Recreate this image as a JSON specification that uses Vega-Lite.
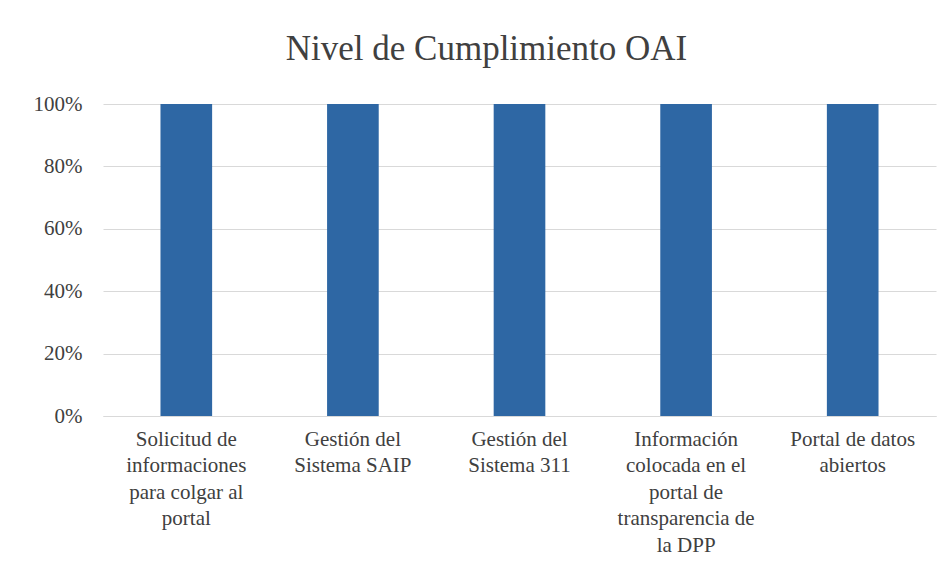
{
  "$schema": "https://vega.github.io/schema/vega-lite/v6.json",
  "width": 833,
  "height": 312,
  "autosize": "none",
  "padding": {"left": 103, "top": 104, "right": 15, "bottom": 168},
  "background": "white",
  "title": {
    "text": "Nivel de Cumplimiento OAI",
    "font": "'Liberation Serif', 'DejaVu Serif', serif",
    "fontSize": 35,
    "fontWeight": "normal",
    "color": "#404040",
    "anchor": "middle",
    "dx": -33,
    "offset": 26
  },
  "data": {
    "values": [
      {"categoria": "Solicitud de|informaciones|para colgar al|portal", "valor": 1},
      {"categoria": "Gestión del|Sistema SAIP", "valor": 1},
      {"categoria": "Gestión del|Sistema 311", "valor": 1},
      {"categoria": "Información|colocada en el|portal de|transparencia de|la DPP", "valor": 1},
      {"categoria": "Portal de datos|abiertos", "valor": 1}
    ]
  },
  "mark": {"type": "bar", "color": "#2e67a4"},
  "encoding": {
    "x": {
      "field": "categoria",
      "type": "nominal",
      "sort": null,
      "scale": {"paddingInner": 0.69, "paddingOuter": 0.345},
      "axis": {
        "title": null,
        "labelAngle": 0,
        "labelExpr": "split(datum.label, '|')",
        "labelFont": "'Liberation Serif', 'DejaVu Serif', serif",
        "labelFontSize": 21,
        "labelLineHeight": 26.5,
        "labelColor": "#404040",
        "labelPadding": 12,
        "domain": true,
        "domainColor": "#d9d9d9",
        "ticks": false,
        "labelBaseline": "top"
      }
    },
    "y": {
      "field": "valor",
      "type": "quantitative",
      "scale": {"domain": [0, 1]},
      "axis": {
        "title": null,
        "format": ".0%",
        "values": [0, 0.2, 0.4, 0.6, 0.8, 1],
        "labelFont": "'Liberation Serif', 'DejaVu Serif', serif",
        "labelFontSize": 21,
        "labelColor": "#404040",
        "labelPadding": 21,
        "domain": false,
        "ticks": false,
        "grid": true,
        "gridColor": "#d9d9d9",
        "gridWidth": 1
      }
    }
  },
  "config": {"view": {"stroke": null}}
}
